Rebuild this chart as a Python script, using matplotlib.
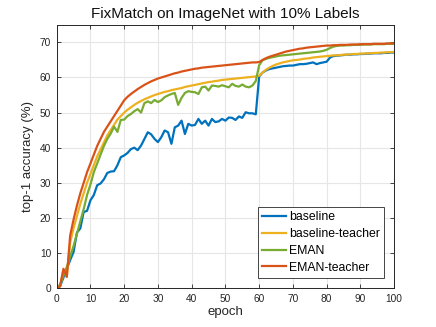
import numpy as np
import matplotlib.pyplot as plt

epochs = np.arange(0, 101)

baseline = [0, 0.5, 3, 5.5, 8, 10.3, 15.8, 17, 21.7, 22, 25,
            26.5, 29.3, 29.8, 31, 32.8, 33.2, 33.3, 35, 37.3, 37.8,
            38.5, 39.6, 40, 39.3, 40.6, 42.5, 44.4, 43.8, 42.5, 41.6,
            43, 44.9, 44.4, 41.1, 45.8, 46.3, 47.7, 43.9, 46.8, 46.3,
            46.5, 48.2, 46.8, 47.7, 46.3, 48.2, 47.3, 47.5, 48.2, 47.7,
            48.6, 48.5, 47.9, 48.9, 48.5, 50.1, 49.8, 49.8, 49.5, 60.3,
            61.4, 62, 62.4, 62.6, 62.8, 63, 63.2, 63.3, 63.4, 63.4,
            63.6, 63.8, 63.8, 63.9, 64.1, 64.3, 63.8, 64.1, 64.3, 64.5,
            65.7, 66.1, 66.2, 66.3, 66.4, 66.5, 66.5, 66.6, 66.6, 66.7,
            66.7, 66.8, 66.8, 66.9, 66.9, 66.9, 67, 67, 67.1, 67.1]

baseline_teacher = [0, 0.5, 5, 3.2, 13, 17, 20.5, 24, 27, 30, 32.5,
                    35, 37.5, 39.5, 41.5, 43.5, 45, 46.5, 48, 49, 50,
                    50.8, 51.5, 52.2, 52.8, 53.3, 53.8, 54.2, 54.6, 55, 55.3,
                    55.6, 55.9, 56.1, 56.4, 56.6, 56.8, 57, 57.3, 57.5, 57.7,
                    57.9, 58.1, 58.3, 58.5, 58.7, 58.8, 59, 59.1, 59.3, 59.4,
                    59.5, 59.6, 59.7, 59.8, 59.9, 60, 60.1, 60.2, 60.3, 60.5,
                    61.4, 62.2, 62.8, 63.3, 63.7, 64, 64.3, 64.5, 64.7, 64.9,
                    65, 65.1, 65.3, 65.4, 65.5, 65.7, 65.8, 65.9, 66, 66.1,
                    66.2, 66.3, 66.3, 66.4, 66.5, 66.5, 66.6, 66.7, 66.7, 66.8,
                    66.8, 66.9, 66.9, 67, 67, 67.1, 67.1, 67.2, 67.2, 67.3]

eman = [0, 1, 3.5, 6, 9, 12, 15.5, 19, 22.5, 26.5, 29.5,
        33, 35.5, 38, 40.5, 42.5, 44, 46, 44.5, 47.9, 48,
        49, 49.6, 50.4, 51, 50, 52.7, 53.2, 52.7, 53.6, 53,
        53.5, 54.4, 54.9, 55.3, 55.6, 52.2, 54.2, 55.6, 56.1, 55.9,
        55.8, 55.3, 57.2, 57.4, 56.3, 57.7, 57.6, 57.4, 57.8, 57.5,
        57.2, 58.2, 57.6, 57.4, 58, 57.4, 57.2, 57.7, 59, 63.5,
        64.9, 65.3, 65.6, 65.8, 66, 66.2, 66.3, 66.4, 66.5, 66.6,
        66.7, 66.8, 66.9, 67, 67.1, 67.2, 67.3, 67.4, 67.6, 67.9,
        68.4, 68.8, 69, 69.1, 69.1, 69.2, 69.2, 69.3, 69.3, 69.3,
        69.4, 69.4, 69.4, 69.5, 69.5, 69.5, 69.5, 69.6, 69.6, 69.6]

eman_teacher = [0, 0.5, 5.5, 3.2, 15, 19.5, 23.5, 27, 30, 33, 35.5,
                38, 40.5, 42.5, 44.5, 46, 47.5, 49, 50.5, 52, 53.5,
                54.5, 55.3, 56, 56.7, 57.3, 57.9, 58.4, 58.9, 59.3, 59.7,
                60, 60.3, 60.6, 60.9, 61.2, 61.4, 61.7, 61.9, 62.1, 62.3,
                62.5, 62.6, 62.8, 62.9, 63, 63.1, 63.2, 63.3, 63.4, 63.5,
                63.6, 63.7, 63.8, 63.9, 64, 64.1, 64.2, 64.3, 64.3, 64.4,
                65, 65.5, 65.9, 66.2, 66.5, 66.8, 67.1, 67.4, 67.6, 67.8,
                68, 68.2, 68.3, 68.5, 68.6, 68.7, 68.8, 68.9, 69, 69.1,
                69.1, 69.2, 69.2, 69.3, 69.3, 69.3, 69.4, 69.4, 69.4, 69.5,
                69.5, 69.5, 69.5, 69.6, 69.6, 69.6, 69.6, 69.7, 69.7, 69.7]

series = [("baseline", baseline, "#0072BD"),
          ("baseline-teacher", baseline_teacher, "#EDB120"),
          ("EMAN", eman, "#77AC30"),
          ("EMAN-teacher", eman_teacher, "#D95319")]

plt.rcParams['font.family'] = ['Liberation Sans', 'DejaVu Sans']

fig = plt.figure(figsize=(4.36, 3.27), dpi=100)
ax = fig.add_axes([0.130, 0.119, 0.774, 0.805])

for name, vals, col in series:
    ax.plot(epochs, vals, color=col, lw=1.6, label=name)

ax.set_xlim(0, 100)
ax.set_ylim(0, 75)
ax.set_xticks(range(0, 101, 10))
ax.set_yticks(range(0, 71, 10))
ax.grid(True, color='#e6e6e6', lw=0.8)
ax.set_axisbelow(True)
ax.tick_params(direction='in', top=True, right=True, length=3, width=0.6,
               labelsize=7.3, colors='#262626', pad=4)
for s in ax.spines.values():
    s.set_color('#262626')
    s.set_linewidth(0.7)

ax.set_title("FixMatch on ImageNet with 10% Labels", fontsize=11, pad=5, color='#111111')
ax.set_xlabel("epoch", fontsize=9.5, color='#262626', labelpad=2)
ax.set_ylabel("top-1 accuracy (%)", fontsize=9.5, color='#262626', labelpad=4)

leg = ax.legend(loc='lower right', fontsize=8.8, handlelength=2.0, handletextpad=0.2,
                labelspacing=0.4, borderpad=0.35, fancybox=False, framealpha=1,
                edgecolor='#262626', bbox_to_anchor=(0.988, 0.015))
leg.get_frame().set_linewidth(0.6)

fig.savefig("out.png", dpi=100)
